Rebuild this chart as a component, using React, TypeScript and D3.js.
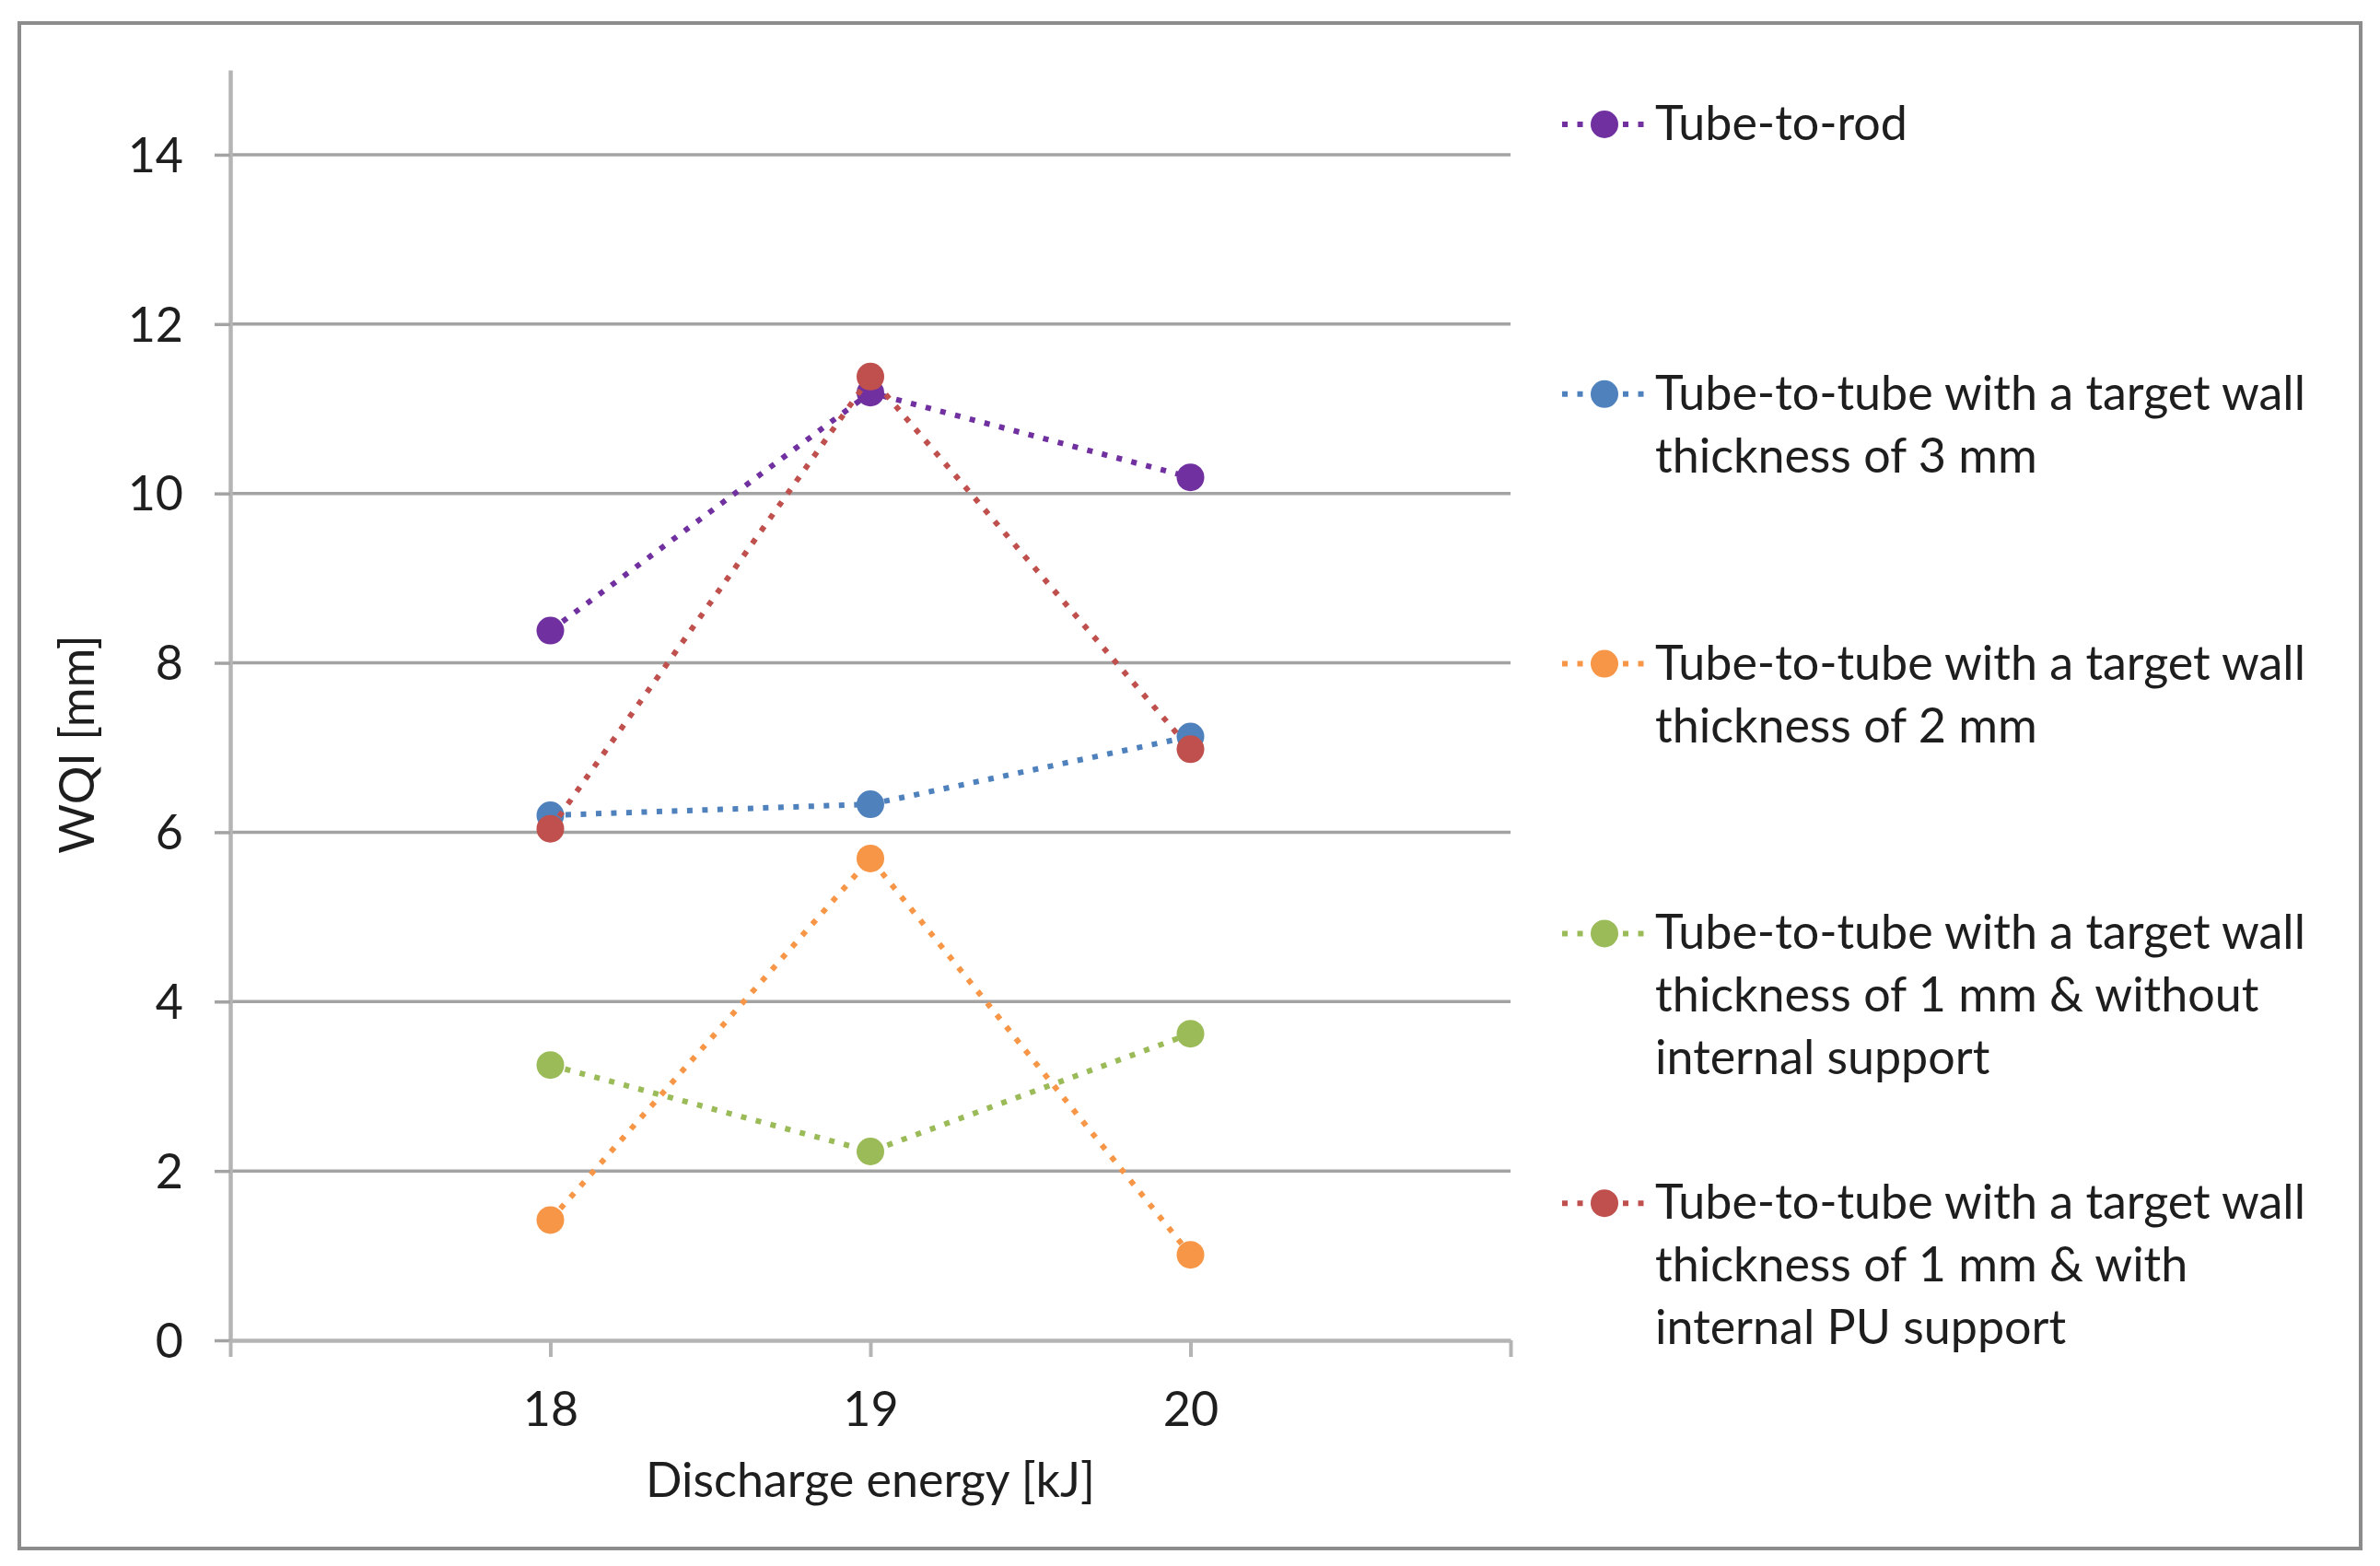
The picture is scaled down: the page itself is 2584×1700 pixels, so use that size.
import { useRef, useEffect } from "react";
import * as d3 from "d3";

// Discharge energy [kJ]
const categories = [18, 19, 20];

const seriesNames = [
  "Tube-to-rod",
  "Tube-to-tube 3 mm",
  "Tube-to-tube 2 mm",
  "Tube-to-tube 1 mm without support",
  "Tube-to-tube 1 mm with PU support",
];

// legend text, already wrapped the way the reference wraps it
const legendLines = [
  ["Tube-to-rod"],
  ["Tube-to-tube with a target wall", "thickness of 3 mm"],
  ["Tube-to-tube with a target wall", "thickness of 2 mm"],
  [
    "Tube-to-tube with a target wall",
    "thickness of 1 mm & without",
    "internal support",
  ],
  [
    "Tube-to-tube with a target wall",
    "thickness of 1 mm & with",
    "internal PU support",
  ],
];

const seriesColors = ["#7030A0", "#4F81BD", "#F79646", "#9BBB59", "#C0504D"];

// WQI [mm] per series, one value per category
const tubeToRod = [8.38, 11.19, 10.19];
const tube3mm = [6.2, 6.33, 7.13];
const tube2mm = [1.42, 5.69, 1.01];
const tube1mmNoSupport = [3.25, 2.23, 3.62];
const tube1mmPU = [6.04, 11.38, 6.98];

const seriesValues = [tubeToRod, tube3mm, tube2mm, tube1mmNoSupport, tube1mmPU];

const yTicks = [0, 2, 4, 6, 8, 10, 12, 14];
const xTicks = [17, 18, 19, 20, 21];

const W = 2584;
const H = 1700;
const FONT = "Lato, 'Open Sans', sans-serif";
const TEXT = "#1e1e1e";

export default function App() {
  const ref = useRef<SVGSVGElement>(null);

  useEffect(() => {
    if (!ref.current) return;
    const svg = d3.select(ref.current);
    svg.selectAll("*").remove();

    const plot = { left: 250, right: 1640, bottom: 1455 };

    const x = d3.scaleLinear().domain([17, 21]).range([plot.left, plot.right]);
    const y = d3.scaleLinear().domain([0, 15]).range([plot.bottom, 76]);

    svg.append("rect").attr("width", W).attr("height", H).attr("fill", "#fff");

    // outer frame
    svg
      .append("rect")
      .attr("x", 21)
      .attr("y", 25)
      .attr("width", 2563 - 21)
      .attr("height", 1681 - 25)
      .attr("fill", "none")
      .attr("stroke", "#8c8c8c")
      .attr("stroke-width", 4);

    // gridlines
    svg
      .append("g")
      .selectAll("line")
      .data(yTicks.filter((d) => d > 0))
      .join("line")
      .attr("x1", plot.left)
      .attr("x2", plot.right)
      .attr("y1", (d) => y(d))
      .attr("y2", (d) => y(d))
      .attr("stroke", "#a3a3a3")
      .attr("stroke-width", 3.5);

    // y axis
    const yAxis = svg
      .append("g")
      .attr("transform", `translate(${plot.left},0)`)
      .call(
        d3
          .axisLeft(y)
          .tickValues(yTicks)
          .tickSize(17)
          .tickSizeOuter(0)
          .tickPadding(34)
          .tickFormat(d3.format("d")),
      );
    yAxis.select(".domain").attr("stroke", "#b4b4b4").attr("stroke-width", 4.5);
    yAxis.selectAll(".tick line").attr("stroke", "#a3a3a3").attr("stroke-width", 3.5);
    yAxis
      .selectAll(".tick text")
      .attr("dy", "0.35em")
      .attr("fill", TEXT)
      .attr("font-size", 52)
      .attr("font-family", FONT);

    // x axis
    const xAxis = svg
      .append("g")
      .attr("transform", `translate(0,${plot.bottom})`)
      .call(
        d3
          .axisBottom(x)
          .tickValues(xTicks)
          .tickSize(18)
          .tickSizeOuter(0)
          .tickFormat((d) => (categories.includes(+d) ? String(d) : "")),
      );
    xAxis.select(".domain").attr("stroke", "#b4b4b4").attr("stroke-width", 4.5);
    xAxis.selectAll(".tick line").attr("stroke", "#b4b4b4").attr("stroke-width", 4);
    xAxis
      .selectAll(".tick text")
      .attr("y", 93)
      .attr("dy", 0)
      .attr("fill", TEXT)
      .attr("font-size", 52)
      .attr("font-family", FONT);

    // axis titles
    svg
      .append("text")
      .attr("x", (x(17) + x(21)) / 2)
      .attr("y", 1625)
      .attr("text-anchor", "middle")
      .attr("font-size", 52)
      .attr("font-family", FONT)
      .attr("fill", TEXT)
      .text("Discharge energy [kJ]");

    svg
      .append("text")
      .attr("transform", `translate(102,808) rotate(-90)`)
      .attr("text-anchor", "middle")
      .attr("font-size", 52)
      .attr("font-family", FONT)
      .attr("fill", TEXT)
      .text("WQI [mm]");

    // series
    const line = d3
      .line<number>()
      .x((_, i) => x(categories[i]))
      .y((d) => y(d));

    seriesValues.forEach((vals, s) => {
      const g = svg.append("g").attr("class", "series");
      g.append("path")
        .attr("d", line(vals))
        .attr("fill", "none")
        .attr("stroke", seriesColors[s])
        .attr("stroke-width", 6)
        .attr("stroke-dasharray", "6 10.5");
      g.selectAll("circle")
        .data(vals)
        .join("circle")
        .attr("cx", (_, i) => x(categories[i]))
        .attr("cy", (d) => y(d))
        .attr("r", 15)
        .attr("fill", seriesColors[s]);
    });

    // legend
    const legend = svg.append("g");
    seriesNames.forEach((name, s) => {
      const cy = 135 + s * 292.8;
      const item = legend.append("g").attr("data-series", name);
      item
        .append("line")
        .attr("x1", 1696)
        .attr("x2", 1786)
        .attr("y1", cy)
        .attr("y2", cy)
        .attr("stroke", seriesColors[s])
        .attr("stroke-width", 6)
        .attr("stroke-dasharray", "6 10.5");
      item
        .append("circle")
        .attr("cx", 1742)
        .attr("cy", cy)
        .attr("r", 15)
        .attr("fill", seriesColors[s]);
      const text = item
        .append("text")
        .attr("x", 1797)
        .attr("y", cy + 17)
        .attr("font-size", 52)
        .attr("font-family", FONT)
        .attr("fill", TEXT);
      legendLines[s].forEach((ln, i) => {
        text
          .append("tspan")
          .attr("x", 1797)
          .attr("dy", i === 0 ? 0 : 68)
          .text(ln);
      });
    });
  }, []);

  return (
    <svg
      ref={ref}
      width={W}
      height={H}
      style={{ position: "absolute", left: 0, top: 0 }}
    />
  );
}
